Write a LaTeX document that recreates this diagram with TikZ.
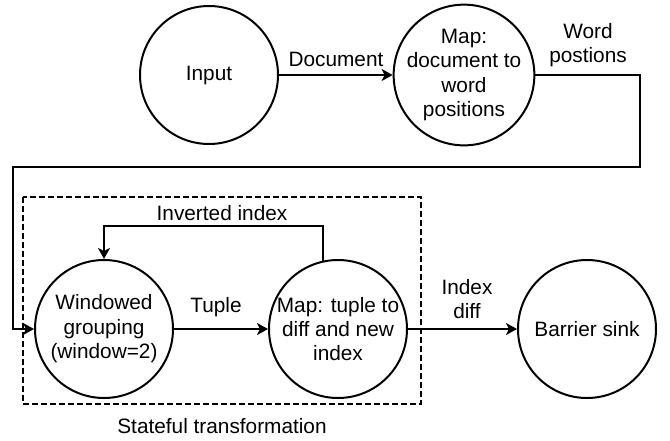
\documentclass[tikz,border=0pt]{standalone}
\usepackage{fontspec}
\setmainfont{Liberation Sans}
\usetikzlibrary{arrows.meta}

\begin{document}
\begin{tikzpicture}[x=0.5pt, y=-0.5pt, line width=1pt,
        font=\fontsize{10.4pt}{12.2pt}\selectfont,
        stage/.style={draw, circle, minimum size=69pt, inner sep=-1pt, align=center},
        flow/.style={-{Stealth[length=5.5pt, width=6pt, inset=1.5pt]}},
        lbl/.style={align=center, inner sep=0pt}]
        \useasboundingbox (0,0) rectangle (670,440);

        \draw[line width=0.8pt, dash pattern=on 3pt off 1.5pt] (23,197) rectangle (421,404);

        \node[stage] (input) at (209,75) {Input};
        \node[stage] (docmap) at (464,75) {Map:\\document to\\word\\positions};
        \node[stage] (window) at (104,329) {Windowed\\grouping\\(window=2)};
        \node[stage] (tuplemap) at (338,329) {Map: tuple to\\diff and new\\index};
        \node[stage] (sink) at (587,329) {Barrier sink};

        \coordinate (wrapR) at (640,167);
        \coordinate (wrapL) at (13,167);
        \coordinate (loop) at (220,226);

        \draw[flow] (input) -- (docmap);
        \draw[flow] (docmap.east) -| (wrapR) -- (wrapL) |- (window.west);
        \draw[flow] (window) -- (tuplemap);
        \draw[flow] (tuplemap.102.6) |- (loop) -| (window.north);
        \draw[flow] (tuplemap) -- (sink);

        \node[lbl] (docLbl) at (336,59) {Document};
        \node[lbl] (posLbl) at (588,45) {Word\\postions};
        \node[lbl] (tupleLbl) at (216,307) {Tuple};
        \node[lbl] (invLbl) at (222,213) {Inverted index};
        \node[lbl] (diffLbl) at (467,299) {Index\\diff};
        \node[lbl] (stateLbl) at (222,426) {Stateful transformation};
    \end{tikzpicture}
\end{document}
